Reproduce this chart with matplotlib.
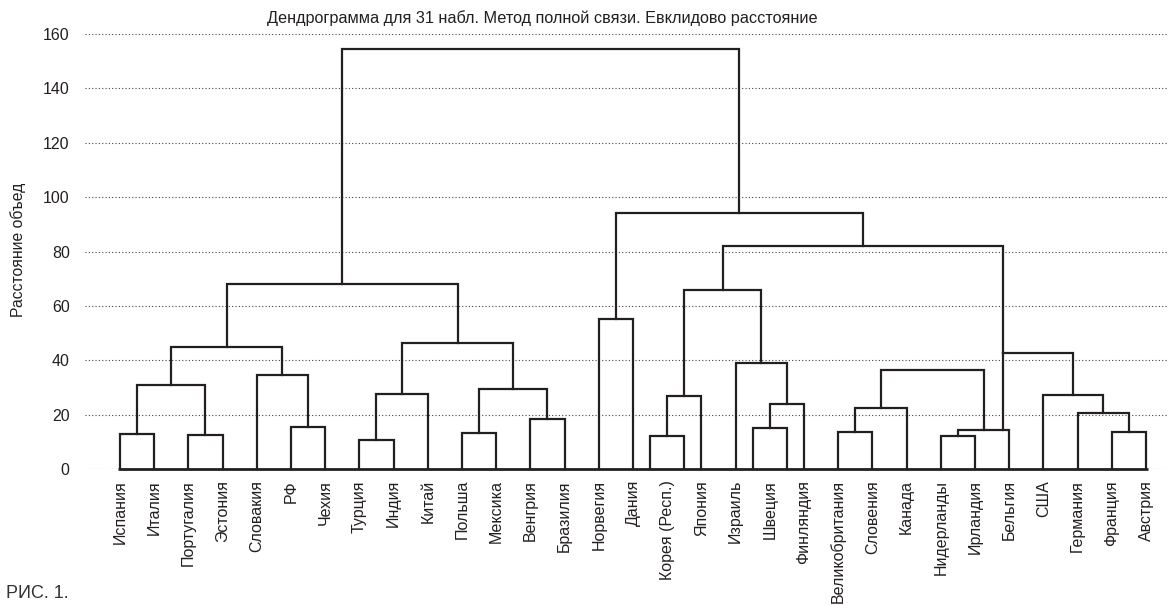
import matplotlib
matplotlib.use('Agg')
import matplotlib.pyplot as plt

plt.rcParams['font.family'] = ['Liberation Sans', 'DejaVu Sans']

leaves = ['Испания', 'Италия', 'Португалия', 'Эстония', 'Словакия', 'РФ', 'Чехия',
          'Турция', 'Индия', 'Китай', 'Польша', 'Мексика', 'Венгрия', 'Бразилия',
          'Норвегия', 'Дания', 'Корея (Респ.)', 'Япония', 'Израиль', 'Швеция',
          'Финляндия', 'Великобритания', 'Словения', 'Канада', 'Нидерланды',
          'Ирландия', 'Бельгия', 'США', 'Германия', 'Франция', 'Австрия']

# each merge joins two nodes: a leaf name or the number of an earlier merge
merge_a = ['Испания', 'Португалия', 0, 'РФ', 'Словакия', 2, 'Турция', 6, 'Польша',
           'Венгрия', 8, 7, 5, 'Норвегия', 'Корея (Респ.)', 'Швеция', 'Израиль', 14,
           'Великобритания', 18, 'Нидерланды', 20, 19, 'Франция', 'Германия', 'США',
           22, 17, 13, 12]
merge_b = ['Италия', 'Эстония', 1, 'Чехия', 3, 4, 'Индия', 'Китай', 'Мексика',
           'Бразилия', 9, 10, 11, 'Дания', 'Япония', 'Финляндия', 15, 16,
           'Словения', 'Канада', 'Ирландия', 'Бельгия', 21, 'Австрия', 23, 24,
           25, 26, 27, 28]
merge_h = [12.9, 12.5, 30.9, 15.4, 34.6, 44.8, 10.7, 27.6, 13.2,
           18.4, 29.4, 46.3, 68.0, 55.1, 26.9, 23.9, 39.0, 65.8,
           13.6, 22.6, 12.3, 14.3, 36.4, 13.7, 20.7, 27.2,
           42.6, 82.1, 94.0, 154.4]

# leaves printed as a small closed box of their own in the source figure
leaf_box = {'Корея (Респ.)': 12.1, 'Швеция': 15.2}

# merge printed with only its right half, stem running down to merge 21
half_merge = 26
half_floor = 21

yticks = [0, 20, 40, 60, 80, 100, 120, 140, 160]

title = 'Дендрограмма для 31 набл. Метод полной связи. Евклидово расстояние'
ylabel = 'Расстояние объед'
caption = 'РИС. 1.'

ink = '#231f20'
lw = 1.6

fig = plt.figure(figsize=(11.68, 6.05), dpi=100)
ax = fig.add_axes([85 / 1168, 136 / 605, 1 - 85 / 1168, (469 - 34) / 605])

node_x = {}
node_h = {}
for i, name in enumerate(leaves):
    node_x[name] = i
    node_h[name] = 0.0
    if name in leaf_box:
        hb = leaf_box[name]
        ax.plot([i - 0.5, i - 0.5, i + 0.5, i + 0.5], [0, hb, hb, 0],
                color=ink, lw=lw, solid_joinstyle='miter')
        node_h[name] = hb

for k, (a, b, h) in enumerate(zip(merge_a, merge_b, merge_h)):
    xa, ha = node_x[a], node_h[a]
    xb, hb = node_x[b], node_h[b]
    xc = (xa + xb) / 2
    if k == half_merge:
        ax.plot([xc, xb, xb], [h, h, hb], color=ink, lw=lw, solid_joinstyle='miter')
        ax.plot([xc, xc], [h, merge_h[half_floor]], color=ink, lw=lw)
    else:
        ax.plot([xa, xa, xb, xb], [ha, h, h, hb], color=ink, lw=lw,
                solid_joinstyle='miter')
    node_x[k] = xc
    node_h[k] = h

# base line under the leaves
ax.plot([-0.05, len(leaves) - 0.95], [0, 0], color=ink, lw=lw + 0.4, clip_on=False,
        solid_capstyle='butt')

ax.set_xlim(-1.02, 30.64)
ax.set_ylim(0, 160)
ax.set_yticks(yticks)
ax.set_yticklabels([str(t) for t in yticks], fontsize=11.5, color=ink)
ax.set_xticks(range(len(leaves)))
ax.set_xticklabels(leaves, rotation=90, fontsize=11.5, color=ink)
ax.tick_params(axis='both', length=0)
ax.tick_params(axis='y', pad=11)
ax.tick_params(axis='x', pad=8)
ax.yaxis.grid(True, linestyle=(0, (1, 2)), color='#444444', lw=0.8)
ax.set_axisbelow(True)
for s in ax.spines.values():
    s.set_visible(False)
ax.patch.set_alpha(0)

fig.text(542 / 1168, 1 - 18 / 605, title, ha='center', va='center', fontsize=11.7,
         color=ink)
fig.text(18 / 1168, 1 - 250 / 605, ylabel, rotation=90, ha='center', va='center',
         fontsize=11.3, color=ink)
fig.text(6 / 1168, 1 - 593 / 605, caption, ha='left', va='center', fontsize=13,
         color='#333333')

fig.savefig('out.png', dpi=100)
